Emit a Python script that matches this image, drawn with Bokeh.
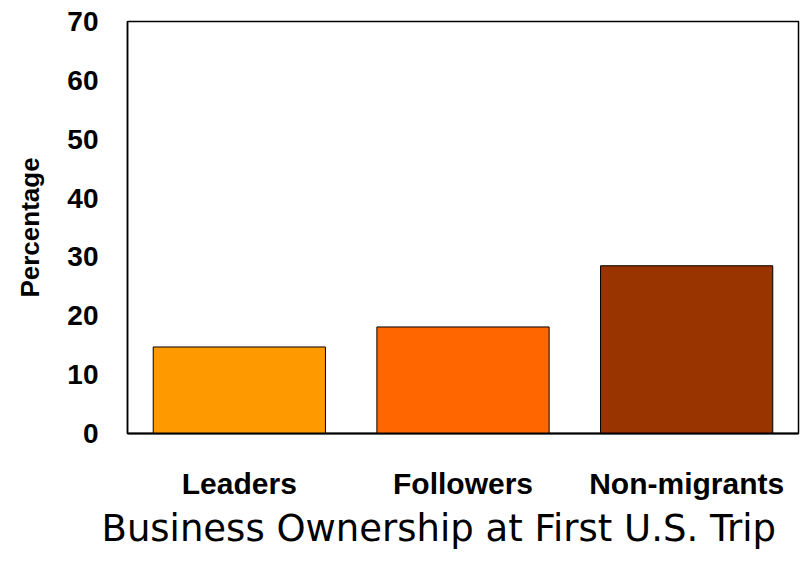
from bokeh.plotting import figure
from bokeh.models import Range1d, Title, ColumnDataSource
from bokeh.embed import file_html
from bokeh.resources import INLINE

categories = ["Leaders", "Followers", "Non-migrants"]
values = [14.7, 18.1, 28.5]
colors = ["#FF9900", "#FF6600", "#993300"]
y_ticks = [0, 10, 20, 30, 40, 50, 60, 70]
title_text = "Business Ownership at First U.S. Trip"
y_label = "Percentage"

src = ColumnDataSource(dict(cat=categories, val=values, color=colors))

p = figure(x_range=categories, y_range=Range1d(0, 70), width=800, height=572,
           output_backend="svg", toolbar_location=None,
           min_border_left=127, min_border_right=2, min_border_top=21,
           min_border_bottom=139)

p.vbar(x="cat", top="val", width=0.77, source=src, fill_color="color",
       line_color="black", line_width=1)

p.xgrid.visible = False
p.ygrid.visible = False
p.outline_line_color = "black"
p.outline_line_width = 1.5
p.background_fill_color = "white"
p.border_fill_color = "white"

p.yaxis.ticker = y_ticks
p.yaxis.axis_line_color = "black"
p.yaxis.axis_line_width = 1.5
p.yaxis.major_tick_line_color = None
p.yaxis.minor_tick_line_color = None
p.yaxis.major_tick_out = 0
p.yaxis.major_tick_in = 0
p.yaxis.major_label_standoff = 29
p.yaxis.major_label_text_font = "Liberation Sans"
p.yaxis.major_label_text_font_style = "bold"
p.yaxis.major_label_text_font_size = "28px"
p.yaxis.major_label_text_color = "black"
p.yaxis.axis_label = y_label
p.yaxis.axis_label_text_font = "Liberation Sans"
p.yaxis.axis_label_text_font_style = "bold"
p.yaxis.axis_label_text_font_size = "26px"
p.yaxis.axis_label_text_color = "black"
p.yaxis.axis_label_standoff = 19

p.xaxis.axis_line_color = "black"
p.xaxis.axis_line_width = 2
p.xaxis.major_tick_line_color = None
p.xaxis.minor_tick_line_color = None
p.xaxis.major_tick_out = 0
p.xaxis.major_tick_in = 0
p.xaxis.major_label_standoff = 33
p.xaxis.major_label_text_font = "Liberation Sans"
p.xaxis.major_label_text_font_style = "bold"
p.xaxis.major_label_text_font_size = "30px"
p.xaxis.major_label_text_color = "black"
p.x_range.range_padding = 0

t = Title(text=title_text, align="left", offset=-26, text_font="DejaVu Sans",
          text_font_style="normal", text_font_size="37px", text_color="black",
          vertical_align="bottom", standoff=4)
p.add_layout(t, "below")

open("out.html", "w").write(file_html(p, INLINE))
